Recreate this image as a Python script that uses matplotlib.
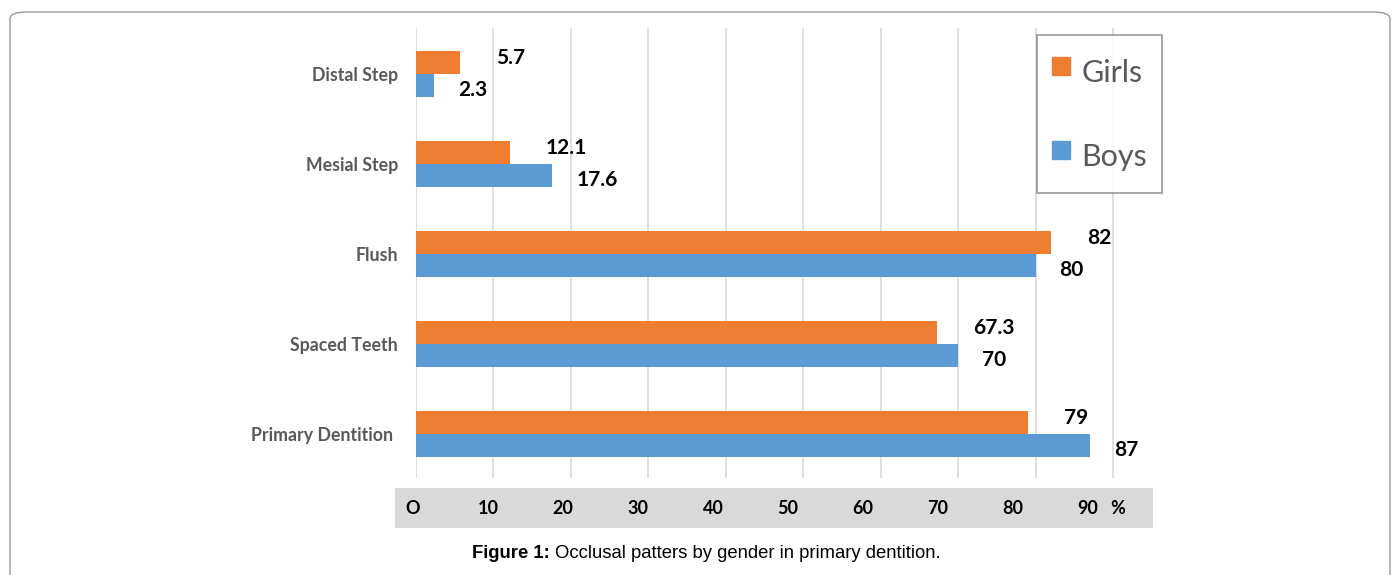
import matplotlib.pyplot as plt
from matplotlib.patches import FancyBboxPatch
from matplotlib.lines import Line2D

categories = ["Primary Dentition ", "Spaced Teeth", "Flush", "Mesial Step", "Distal Step"]
girls = [79, 67.3, 82, 12.1, 5.7]
boys = [87, 70, 80, 17.6, 2.3]
girls_labels = ["79", "67.3", "82", "12.1", "5.7"]
boys_labels = ["87", "70", "80", "17.6", "2.3"]
tick_values = [0, 10, 20, 30, 40, 50, 60, 70, 80, 90]
tick_labels = ["O", "10", "20", "30", "40", "50", "60", "70", "80", "90"]

orange = "#ED7D31"
blue = "#5B9BD5"
W, H = 1398, 575

fig = plt.figure(figsize=(W / 100, H / 100), dpi=100)
plt.rcParams['font.family'] = ['Lato', 'DejaVu Sans']

# outer rounded frame
frame = FancyBboxPatch((10 / W, -0.1), 1380 / W, 1.1 - 12 / H,
                       boxstyle="round,pad=0,rounding_size=0.012",
                       transform=fig.transFigure, fill=False,
                       edgecolor="#9a9a9a", linewidth=1.0)
fig.patches.append(frame)

# main axes: px 416..1120 horizontally, 28..478 vertically
ax = fig.add_axes([416 / W, 1 - 478 / H, (1120 - 416) / W, 450 / H])
y = list(range(len(categories)))
h = 0.26
ax.barh([v + h / 2 for v in y], girls, height=h, color=orange, zorder=3)
ax.barh([v - h / 2 for v in y], boys, height=h, color=blue, zorder=3)
ax.set_xlim(0, 90.9)
ax.set_ylim(-0.49, 4.51)
ax.set_xticks(tick_values)
ax.set_xticklabels([])
ax.tick_params(length=0)
ax.grid(axis="x", color="#d9d9d9", linewidth=1.2, zorder=0)
for s in ax.spines.values():
    s.set_visible(False)
ax.set_yticks(y)
ax.set_yticklabels(categories, fontsize=12.8, fontweight="bold", color="#595959")
ax.tick_params(axis="y", pad=13)

for yi, g, b, gl, bl in zip(y, girls, boys, girls_labels, boys_labels):
    ax.annotate(gl, (g, yi + h / 2), xytext=(36, 4), textcoords="offset pixels",
                ha="left", va="center", fontsize=15, fontweight="bold")
    ax.annotate(bl, (b, yi - h / 2), xytext=(24, -4), textcoords="offset pixels",
                ha="left", va="center", fontsize=15, fontweight="bold")

# legend box
legend_handles = [
    Line2D([], [], marker="s", linestyle="", color=orange, markersize=13),
    Line2D([], [], marker="s", linestyle="", color=blue, markersize=13),
]
leg = ax.legend(legend_handles, ["Girls", "Boys"], loc="upper left",
                bbox_to_anchor=((1037 - 416) / 704, (478 - 35) / 450),
                borderaxespad=0, frameon=True, fancybox=False, fontsize=22,
                labelspacing=1.35, handletextpad=0.35, borderpad=0.5,
                handlelength=0.6, handleheight=1.8, labelcolor="#595959")
leg.get_frame().set_edgecolor("#7f7f7f")
leg.get_frame().set_linewidth(1.2)

# grey strip with the axis labels
sx = fig.add_axes([395 / W, 1 - 528 / H, (1153 - 395) / W, 40 / H])
sx.set_facecolor("#d9d9d9")
sx.set_xlim(-2.4, 98.7)
sx.set_ylim(0, 1)
sx.set_xticks([])
sx.set_yticks([])
for s in sx.spines.values():
    s.set_visible(False)
for v, t in zip(tick_values, tick_labels):
    sx.text(v, 0.5, t, ha="center", va="center", fontsize=13, fontweight="bold")
sx.text(94, 0.5, "%", ha="center", va="center", fontsize=13, fontweight="bold")

# caption
fig.text(550 / W, 1 - 553 / H, "Figure 1:", ha="right", va="center",
         fontsize=13.3, fontweight="bold", family="Liberation Sans")
fig.text(555 / W, 1 - 553 / H, "Occlusal patters by gender in primary dentition.",
         ha="left", va="center", fontsize=13.3, family="Liberation Sans")

fig.savefig("out.png", dpi=100)
